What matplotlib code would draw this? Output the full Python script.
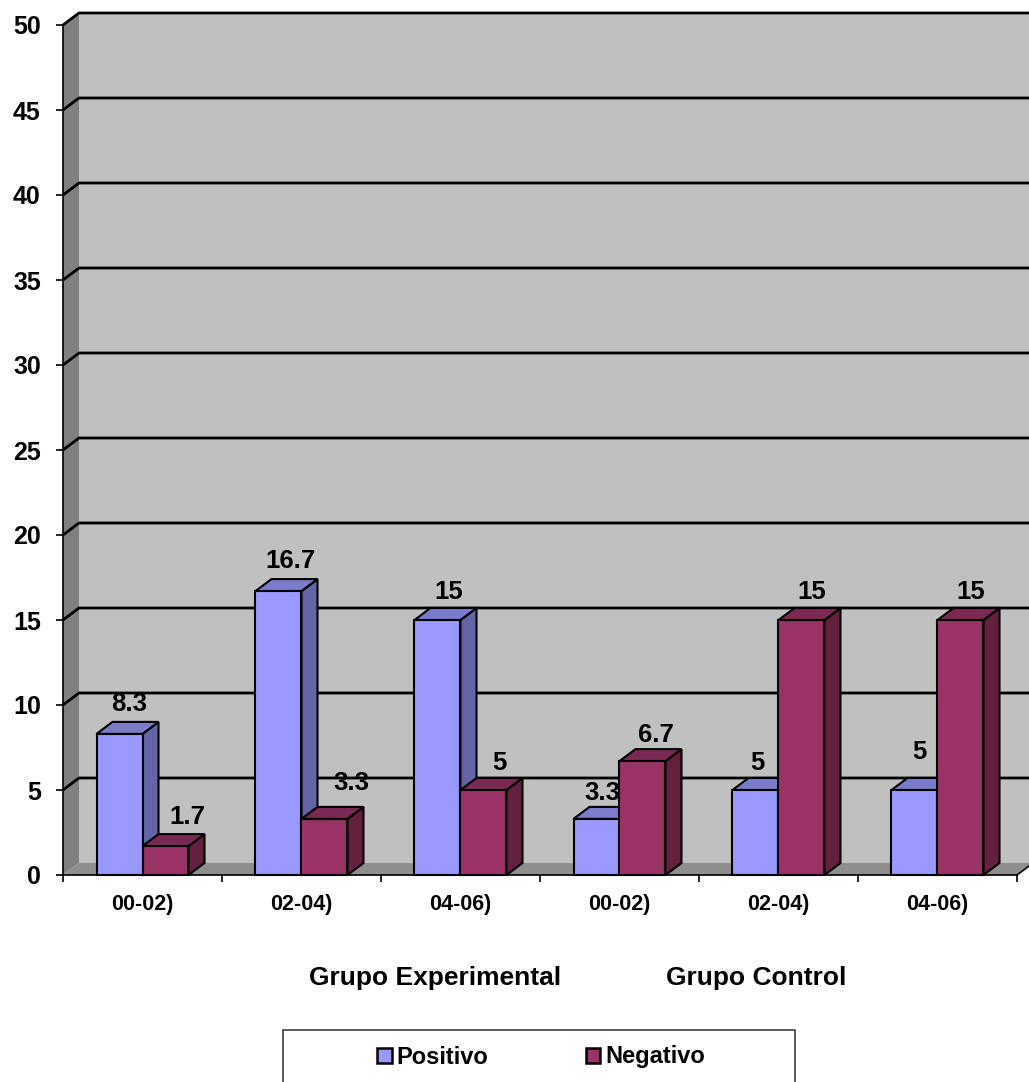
import matplotlib
matplotlib.use("Agg")
import matplotlib.pyplot as plt
from matplotlib.patches import Polygon, Rectangle, Patch

# ---- data ----
categories = ["00-02)", "02-04)", "04-06)", "00-02)", "02-04)", "04-06)"]
positivo = [8.3, 16.7, 15, 3.3, 5, 5]
negativo = [1.7, 3.3, 5, 6.7, 15, 15]
groups = ["Grupo Experimental", "Grupo Control"]
series_names = ["Positivo", "Negativo"]
y_ticks = list(range(0, 55, 5))

# label nudges (pixels, right / up) relative to each bar's front-top centre
pos_label_nudge = [(10, 30), (12, 30), (11, 28), (6, 26), (2, 27), (5, 38)]
neg_label_nudge = [(22, 29), (27, 36), (16, 27), (13, 26), (10, 28), (10, 28)]

# ---- style ----
plt.rcParams["font.family"] = ["Liberation Sans", "DejaVu Sans"]
plt.rcParams["font.weight"] = "bold"

W, H, DPI = 1029, 1082, 100
PT = 72 / DPI  # points per pixel
fig = plt.figure(figsize=(W / DPI, H / DPI), dpi=DPI)
fig.patch.set_facecolor("white")

ax_left, ax_bottom, ax_w, ax_h = 63, 1082 - 875, 954, 850
ax = fig.add_axes([ax_left / W, ax_bottom / H, ax_w / W, ax_h / H])
ncat = len(categories)
ymax = 50
ax.set_xlim(0, ncat)
ax.set_ylim(0, ymax)
ax.set_facecolor("none")

# depth of the pseudo-3D box, expressed in data units
px_per_cat = ax_w / ncat
px_per_unit = ax_h / ymax
DX = 16 / px_per_cat
DY = 12 / px_per_unit
x_right = (W - ax_left) / px_per_cat + 0.1

wall_c = "#C0C0C0"
side_wall_c = "#808080"
floor_c = "#8E8E8E"

# back wall, side wall and floor
ax.add_patch(Rectangle((DX, DY), x_right - DX, ymax, facecolor=wall_c,
                       edgecolor="none", clip_on=False, zorder=0))
ax.add_patch(Polygon([(0, 0), (DX, DY), (DX, ymax + DY), (0, ymax)],
                     facecolor=side_wall_c, edgecolor="none", clip_on=False, zorder=0))
ax.add_patch(Polygon([(0, 0), (ncat, 0), (ncat + DX, DY), (DX, DY)],
                     facecolor=floor_c, edgecolor="none", clip_on=False, zorder=0))
ax.plot([ncat, ncat + DX], [0, DY], color="black", lw=1.2, clip_on=False, zorder=1)

# gridlines on the walls
for v in y_ticks[1:]:
    ax.plot([0, DX, x_right], [v, v + DY, v + DY], color="black", lw=2.0,
            clip_on=False, zorder=1, solid_capstyle="butt")

# bars
bar_w = 46 / px_per_cat
pos_cols = ("#9999FF", "#7B7BCC", "#6464A6")
neg_cols = ("#993366", "#7A2952", "#63213F")


def bar3d(x0, h, cols, z):
    front, top, side = cols
    x1 = x0 + bar_w
    kw = dict(edgecolor="black", lw=1.5, joinstyle="miter", zorder=z, clip_on=False)
    ax.add_patch(Polygon([(x1, 0), (x1 + DX, DY), (x1 + DX, h + DY), (x1, h)],
                         facecolor=side, **kw))
    ax.add_patch(Polygon([(x0, h), (x1, h), (x1 + DX, h + DY), (x0 + DX, h + DY)],
                         facecolor=top, **kw))
    ax.add_patch(Rectangle((x0, 0), bar_w, h, facecolor=front, **kw))


for i, (p, n) in enumerate(zip(positivo, negativo)):
    c = i + 0.5
    bar3d(c - bar_w, p, pos_cols, 3 + 2 * i)
    bar3d(c, n, neg_cols, 4 + 2 * i)

# value labels
for i, (p, n) in enumerate(zip(positivo, negativo)):
    c = i + 0.5
    for x, v, (nx, ny) in ((c - bar_w / 2, p, pos_label_nudge[i]),
                           (c + bar_w / 2, n, neg_label_nudge[i])):
        ax.annotate(f"{v:g}", (x, v), xytext=(nx * PT, ny * PT),
                    textcoords="offset points", ha="center", va="center",
                    fontsize=18.5, fontweight="bold", zorder=30,
                    annotation_clip=False)

# axes, ticks and labels
for s in ("top", "right"):
    ax.spines[s].set_visible(False)
ax.spines["left"].set_linewidth(1.2)
ax.spines["bottom"].set_linewidth(1.2)
ax.spines["left"].set_zorder(2)
ax.spines["bottom"].set_zorder(20)
ax.set_yticks(y_ticks)
ax.set_yticklabels([str(t) for t in y_ticks], fontsize=18, fontweight="bold")
ax.tick_params(axis="y", direction="out", length=5, width=1.2, pad=11)
ax.set_xticks(range(ncat + 1))
ax.set_xticklabels([""] * (ncat + 1))
ax.set_xticks([i + 0.5 for i in range(ncat)], minor=True)
ax.set_xticklabels(categories, minor=True, fontsize=15.5, fontweight="bold")
ax.tick_params(axis="x", which="major", direction="out", length=5, width=1.2)
ax.tick_params(axis="x", which="minor", length=0, pad=14)

# group captions
fig.text(435 / W, 1 - 978 / H, groups[0], ha="center", va="center",
         fontsize=19, fontweight="bold")
fig.text(756 / W, 1 - 978 / H, groups[1], ha="center", va="center",
         fontsize=19, fontweight="bold")

# legend
fig.patches.append(Rectangle((283 / W, 1 - 1090 / H), (795 - 283) / W, 60 / H,
                             transform=fig.transFigure, facecolor="white",
                             edgecolor="#404040", lw=1.2))
handles = [Patch(facecolor=pos_cols[0], edgecolor="black", lw=1.8),
           Patch(facecolor=neg_cols[0], edgecolor="black", lw=1.8)]
fig.legend(handles, series_names, loc="center", bbox_to_anchor=(541 / W, 1 - 1057 / H),
           ncol=2, frameon=False, prop={"weight": "bold", "size": 17},
           handlelength=0.6, handleheight=0.6, handletextpad=0.2, columnspacing=4.15)

fig.savefig("out.png", dpi=DPI)
